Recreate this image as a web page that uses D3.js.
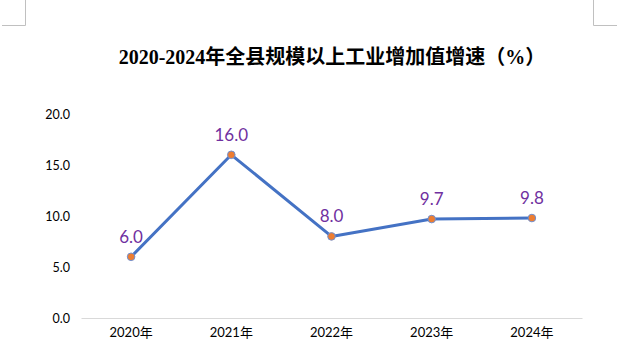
<!DOCTYPE html>
<html>
<head>
<meta charset="utf-8">
<script src="https://cdn.jsdelivr.net/npm/d3@7"></script>
<style>
  html, body { margin: 0; padding: 0; background: #fff; }
  svg { display: block; }
</style>
</head>
<body>
<script>
const years = ["2020年", "2021年", "2022年", "2023年", "2024年"];
const growth = [6.0, 16.0, 8.0, 9.7, 9.8];
const yTicks = [0, 5, 10, 15, 20];
const title = "2020-2024年全县规模以上工业增加值增速（%）";

const W = 622, H = 354;
const plot = { left: 81, right: 582, top: 114, bottom: 318 };

const svg = d3.select("body").append("svg")
    .attr("width", W)
    .attr("height", H);

// page corner marks
const cornerColor = "#c0c0c0";
svg.append("path")
    .attr("d", "M25.5,0 V25.5 H2")
    .attr("fill", "none").attr("stroke", cornerColor).attr("stroke-width", 1);
svg.append("path")
    .attr("d", "M593.5,0 V25.5 H617")
    .attr("fill", "none").attr("stroke", cornerColor).attr("stroke-width", 1);

svg.append("text")
    .attr("x", 332)
    .attr("y", 64)
    .attr("text-anchor", "middle")
    .attr("font-family", "'Liberation Serif', 'Noto Sans CJK SC', serif")
    .attr("font-weight", "bold")
    .attr("font-size", 20)
    .attr("fill", "#000")
    .text(title);

const x = d3.scaleBand()
    .domain(years)
    .range([plot.left, plot.right])
    .padding(0);

const y = d3.scaleLinear()
    .domain([0, 20])
    .range([plot.bottom, plot.top]);

const cx = d => x(d) + x.bandwidth() / 2;

// y axis labels (no line)
const yAxis = svg.append("g")
    .attr("transform", `translate(${plot.left},0)`)
    .call(d3.axisLeft(y).tickValues(yTicks).tickFormat(d3.format(".1f")).tickSize(0).tickPadding(11));
yAxis.select(".domain").remove();
yAxis.selectAll("text")
    .attr("font-family", "Lato, 'Noto Sans', sans-serif")
    .attr("font-size", 12.5)
    .attr("fill", "#000");

// x axis
const xAxis = svg.append("g")
    .attr("transform", `translate(0,${plot.bottom})`)
    .call(d3.axisBottom(x).tickSize(0).tickPadding(10));
xAxis.select(".domain")
    .attr("stroke", "#d9d9d9")
    .attr("stroke-width", 1.2);
xAxis.selectAll("text")
    .attr("font-family", "Lato, 'Noto Sans CJK SC', sans-serif")
    .attr("font-size", 13)
    .attr("fill", "#000");

const pts = years.map((d, i) => [cx(d), y(growth[i])]);

svg.append("path")
    .datum(pts)
    .attr("d", d3.line())
    .attr("fill", "none")
    .attr("stroke", "#4472C4")
    .attr("stroke-width", 3)
    .attr("stroke-linejoin", "round")
    .attr("stroke-linecap", "round");

svg.selectAll("circle.pt")
    .data(pts)
    .join("circle")
    .attr("class", "pt")
    .attr("cx", d => d[0])
    .attr("cy", d => d[1])
    .attr("r", 3.8)
    .attr("fill", "#ED7D31")
    .attr("stroke", "#6F8FD0")
    .attr("stroke-width", 1);

svg.selectAll("text.lbl")
    .data(pts)
    .join("text")
    .attr("class", "lbl")
    .attr("x", d => d[0])
    .attr("y", d => d[1] - 14)
    .attr("text-anchor", "middle")
    .attr("font-family", "Lato, 'Noto Sans', sans-serif")
    .attr("font-size", 17)
    .attr("fill", "#7030A0")
    .text((d, i) => growth[i].toFixed(1));
</script>
</body>
</html>
